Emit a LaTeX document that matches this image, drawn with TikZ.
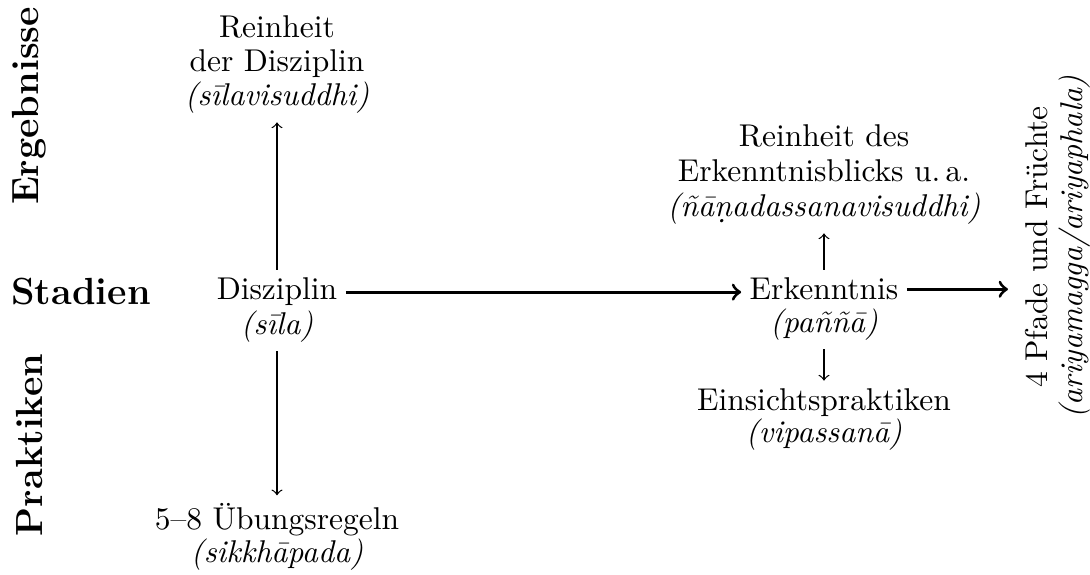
\documentclass[tikz,border=0pt]{standalone}
\usepackage{fontspec}
\begin{document}
\begin{tikzpicture}[x=0.3175pt,y=-0.3175pt,
  txt/.style={font=\fontsize{10}{11}\selectfont,inner sep=2.5pt,anchor=base},
  rowlab/.style={font=\large\bfseries,inner sep=0pt},
  fine/.style={-to,line width=0.4pt},
  main/.style={-to,line width=1pt}]
\useasboundingbox (0,0) rectangle (1090,575);
% row labels
\node[rowlab,rotate=90] (erg) at (29,106) {Ergebnisse};
\node[rowlab,anchor=base] (sta) at (81,305) {Stadien};
\node[rowlab,rotate=90] (pra) at (29,445) {Praktiken};
% left column
\node[txt] (r1a) at (277,38) {Reinheit};
\node[txt] (r1b) at (277,72) {der Disziplin};
\node[txt] (r1c) at (277,106) {\textit{(sīlavisuddhi)}};
\node[txt] (dis) at (277,300) {Disziplin};
\node[txt] (sila) at (277,335) {\textit{(sīla)}};
\node[txt] (ueb) at (277,530) {5–8 Übungsregeln};
\node[txt] (sik) at (277,563) {\textit{(sikkhāpada)}};
% right column
\node[txt] (r2a) at (824,147) {Reinheit des};
\node[txt] (r2b) at (824,182) {Erkenntnisblicks u.\,a.};
\node[txt] (r2c) at (824,217) {\textit{(ñāṇadassanavisuddhi)}};
\node[txt] (erk) at (824,300) {Erkenntnis};
\node[txt] (pan) at (824,333) {\textit{(paññā)}};
\node[txt] (ein) at (824,411) {Einsichtspraktiken};
\node[txt] (vip) at (824,443) {\textit{(vipassanā)}};
% result
\node[font=\fontsize{10}{11}\selectfont,align=center,rotate=90,inner sep=0pt] (pfa) at (1058,247)
  {4 Pfade und Früchte\\\textit{(ariyamagga/ariyaphala)}};
\coordinate (endc) at (1008,300);
% connectors
\draw[fine] (dis.north) -- (r1c.south);
\draw[fine] (sila.south) -- (ueb.north);
\draw[fine] (erk.north) -- (r2c.south);
\draw[fine] (pan.south) -- (ein.north);
\draw[main] (dis.east) -- (dis.east -| erk.west);
\draw[main] (erk.east) -- (erk.east -| endc);
\end{tikzpicture}
\end{document}
